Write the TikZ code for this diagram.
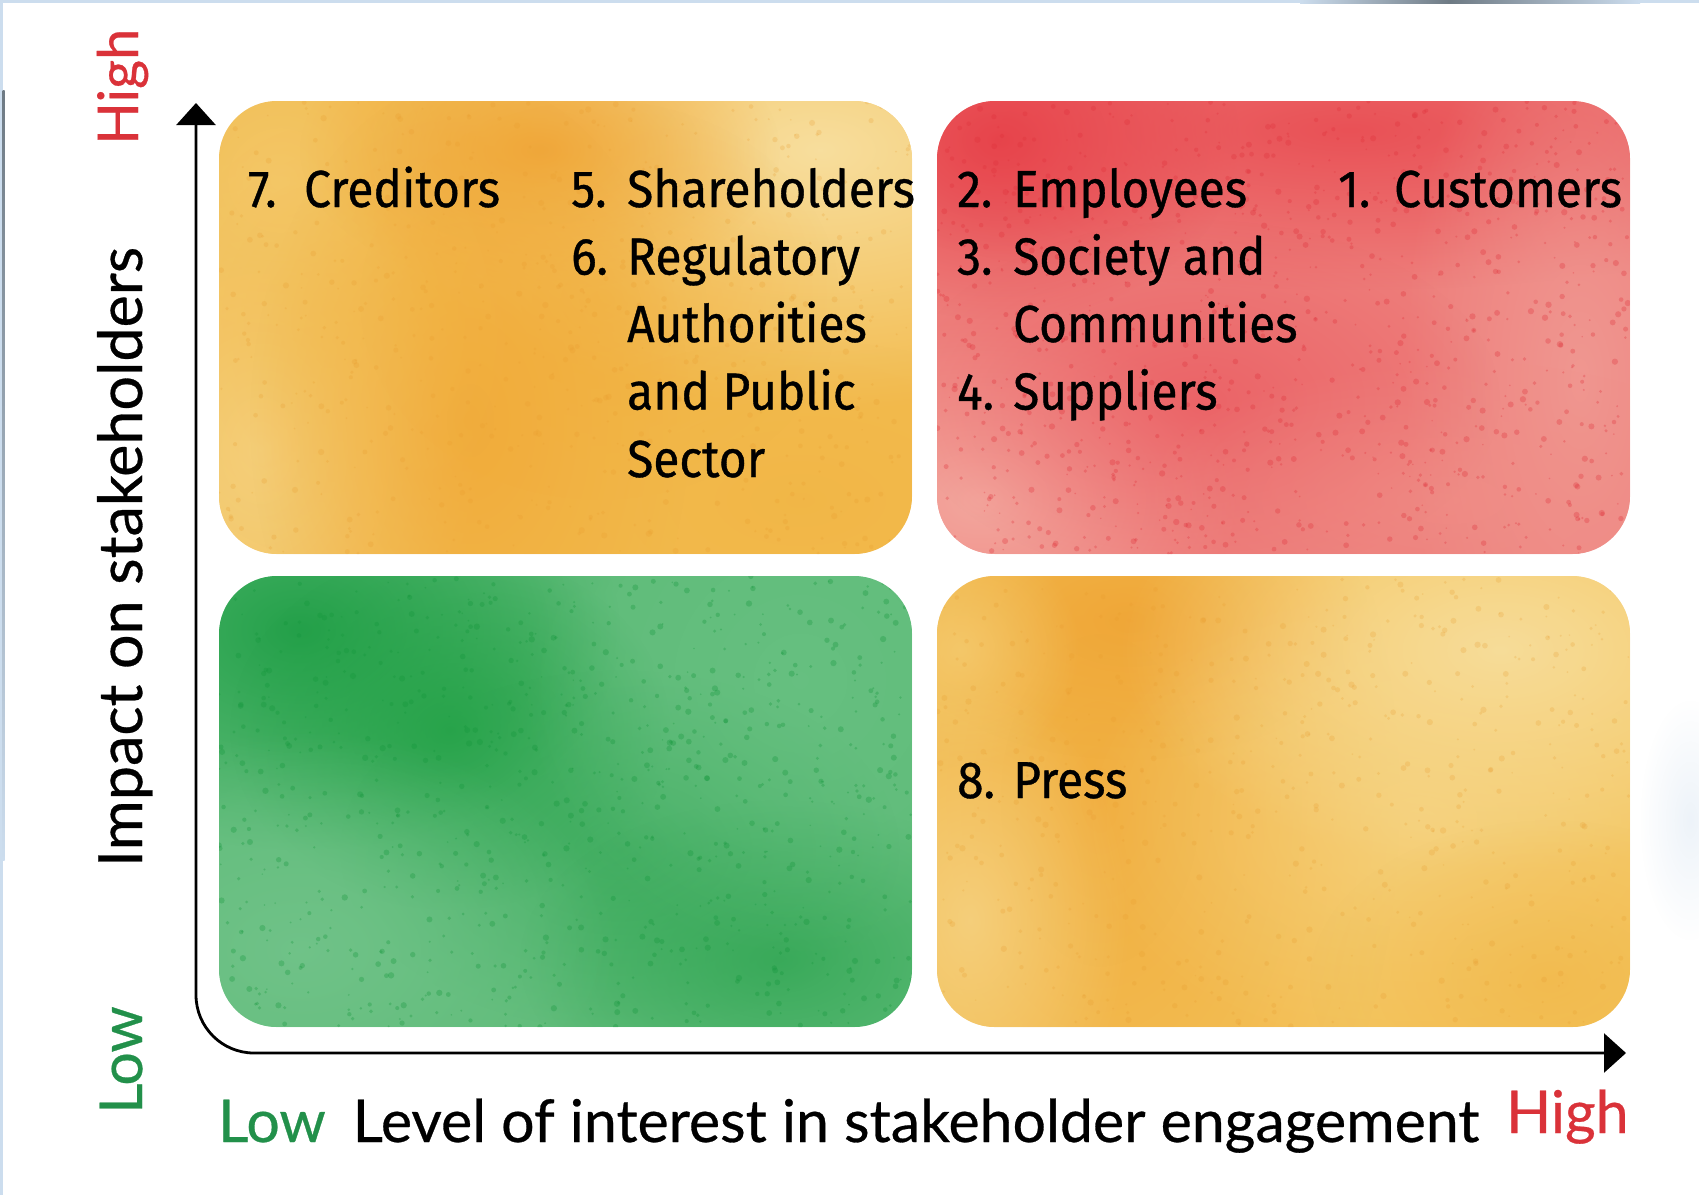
\documentclass[tikz,border=0pt]{standalone}
\usepackage{fontspec}
\setmainfont[FakeBold=0.5]{Lato}
\newfontfamily\boxfont[FakeStretch=0.92,FakeBold=0.7]{Fira Sans}
\usetikzlibrary{arrows.meta,fadings}
\definecolor{highred}{HTML}{DA3239}
\definecolor{lowgreen}{HTML}{22904A}
\definecolor{framelight}{HTML}{CCDDEE}
\definecolor{framegray}{HTML}{6E7A84}
% yellow quadrants
\definecolor{yBase}{HTML}{F3BB4E}
\definecolor{yCream}{HTML}{F8E2A6}
\definecolor{yPale}{HTML}{F6D88E}
\definecolor{yLight}{HTML}{F5CF77}
\definecolor{yOrange}{HTML}{EFA232}
\definecolor{yOrangeB}{HTML}{F0A634}
\definecolor{yMid}{HTML}{F1AE3C}
\definecolor{yMidB}{HTML}{F1B443}
\definecolor{yMidC}{HTML}{F2BA4D}
\definecolor{yDot}{HTML}{E89A2C}
\definecolor{yBaseB}{HTML}{F4C45C}
% red quadrant
\definecolor{rBase}{HTML}{EE7E7B}
\definecolor{rDark}{HTML}{E63C45}
\definecolor{rDarkB}{HTML}{E8464D}
\definecolor{rPale}{HTML}{F4ABA1}
\definecolor{rPaleB}{HTML}{F1A29A}
\definecolor{rMid}{HTML}{E9525A}
\definecolor{rPink}{HTML}{F09088}
\definecolor{rDot}{HTML}{E0303A}
% green quadrant
\definecolor{gBase}{HTML}{5FBC79}
\definecolor{gDark}{HTML}{1E9E45}
\definecolor{gDarkB}{HTML}{1FA043}
\definecolor{gMid}{HTML}{30A653}
\definecolor{gMidB}{HTML}{2BA34E}
\definecolor{gLight}{HTML}{74C48C}
\definecolor{gLightB}{HTML}{6BC285}
\definecolor{gDot}{HTML}{12963A}
\tikzfading[name=blobfade, inner color=transparent!0, outer color=transparent!100]
\newcommand\wblob[6]{\fill[fill=#1, path fading=blobfade, fill opacity=#6] (#2,#3) ellipse [x radius={2*#4}, y radius={2*#5}];}
\newcommand\speckles[7]{%
  \foreach \k in {1,...,#6}{%
    \pgfmathsetmacro\px{#2+rnd*#4}%
    \pgfmathsetmacro\py{#3+rnd*#5}%
    \pgfmathsetmacro\pr{0.8+2.4*rnd}%
    \fill[fill=#1, fill opacity=#7] (\px,\py) circle [radius=\pr];
  }}
\newcommand\numbox[1]{\makebox[56pt][l]{#1}}
\tikzset{
  quad/.style={rounded corners=58pt},
  itemtext/.style={anchor=base west, inner sep=0pt, text=black,
    font={\boxfont\fontsize{52}{67.5}\selectfont}},
  axislabel/.style={inner sep=0pt, font={\fontsize{59}{70}\selectfont}},
  axisline/.style={line width=2.8pt, rounded corners=58pt,
    {Triangle[length=22pt,width=39pt]}-{Triangle[length=22pt,width=39pt]}},
}
\begin{document}
\begin{tikzpicture}[x=1pt,y=-1pt]
\pgfmathsetseed{1234}
\useasboundingbox (0,0) rectangle (1699,1195);
\fill[white] (0,0) rectangle (1699,1195);
% screenshot frame remnants
\fill[framelight] (0,0) rectangle (1699,3);
\shade[left color=framelight, right color=framegray] (1300,0) rectangle (1450,3);
\shade[left color=framegray, right color=framelight] (1450,0) rectangle (1640,3);
\fill[framelight] (0,0) rectangle (3,1195);
\shade[top color=framegray, bottom color=framelight] (2.5,90) rectangle (4.5,860);
\wblob{framelight}{1690}{820}{25}{60}{0.35}

% ---------- top-left quadrant (yellow) ----------
\begin{scope}
\clip[quad] (219,101) rectangle (912,554);
\fill[yBase] (219,101) rectangle (912,554);
\wblob{yCream}{820}{150}{230}{130}{0.9}
\wblob{yPale}{260}{450}{110}{150}{0.8}
\wblob{yLight}{280}{180}{90}{90}{0.7}
\wblob{yOrange}{540}{150}{120}{70}{0.85}
\wblob{yOrangeB}{470}{420}{110}{170}{0.75}
\wblob{yMid}{600}{300}{120}{100}{0.6}
\wblob{yMidB}{800}{500}{150}{80}{0.6}
\wblob{yMidC}{330}{320}{100}{120}{0.5}
\speckles{yDot}{219}{101}{693}{453}{600}{0.22}
\end{scope}

% ---------- top-right quadrant (red) ----------
\begin{scope}
\clip[quad] (937,101) rectangle (1630,554);
\fill[rBase] (937,101) rectangle (1630,554);
\wblob{rDark}{1000}{140}{120}{90}{0.9}
\wblob{rDarkB}{1350}{130}{300}{80}{0.8}
\wblob{rPale}{980}{500}{130}{90}{0.9}
\wblob{rPaleB}{1580}{380}{90}{200}{0.7}
\wblob{rMid}{1200}{400}{150}{90}{0.6}
\wblob{rPink}{1450}{500}{160}{70}{0.6}
\speckles{rDot}{937}{101}{693}{453}{1000}{0.3}
\end{scope}

% ---------- bottom-left quadrant (green) ----------
\begin{scope}
\clip[quad] (219,576) rectangle (912,1027);
\fill[gBase] (219,576) rectangle (912,1027);
\wblob{gDark}{300}{630}{160}{110}{0.9}
\wblob{gDarkB}{450}{730}{110}{90}{0.8}
\wblob{gMid}{620}{850}{140}{90}{0.6}
\wblob{gMidB}{780}{960}{130}{80}{0.7}
\wblob{gLight}{300}{950}{160}{110}{0.8}
\wblob{gLightB}{800}{680}{140}{140}{0.6}
\speckles{gDot}{219}{576}{693}{451}{900}{0.3}
\end{scope}

% ---------- bottom-right quadrant (yellow) ----------
\begin{scope}
\clip[quad] (937,576) rectangle (1630,1027);
\fill[yBaseB] (937,576) rectangle (1630,1027);
\wblob{yOrangeB}{1100}{800}{150}{250}{0.75}
\wblob{yOrange}{1130}{620}{120}{70}{0.75}
\wblob{yCream}{1500}{650}{190}{110}{0.85}
\wblob{yPale}{1420}{820}{170}{120}{0.6}
\wblob{yPale}{970}{920}{80}{120}{0.7}
\wblob{yMidB}{1550}{980}{120}{80}{0.6}
\wblob{yLight}{960}{650}{60}{60}{0.7}
\speckles{yDot}{937}{576}{693}{451}{600}{0.22}
\end{scope}

% ---------- axes ----------
\coordinate (ytip) at (196,103);
\coordinate (origin) at (196,1053);
\coordinate (xtip) at (1626,1053);
\draw[axisline] (ytip) -- (origin) -- (xtip);

% ---------- quadrant texts ----------
\node[itemtext] (creditors) at (248,207)
  {\begin{tabular}[t]{@{}l@{}l@{}}\numbox{7.}&Creditors\end{tabular}};
\node[itemtext] (shareholders) at (571,207)
  {\begin{tabular}[t]{@{}l@{}l@{}}\numbox{5.}&Shareholders\\
   \numbox{6.}&Regulatory\\ &Authorities\\ &and Public\\ &Sector\end{tabular}};
\node[itemtext] (employees) at (957,207)
  {\begin{tabular}[t]{@{}l@{}l@{}}\numbox{2.}&Employees\\
   \numbox{3.}&Society and\\ &Communities\\ \numbox{4.}&Suppliers\end{tabular}};
\node[itemtext] (customers) at (1338,207)
  {\begin{tabular}[t]{@{}l@{}l@{}}\numbox{1.}&Customers\end{tabular}};
\node[itemtext] (press) at (957,798)
  {\begin{tabular}[t]{@{}l@{}l@{}}\numbox{8.}&Press\end{tabular}};

% ---------- axis labels ----------
\node[axislabel, text=lowgreen, anchor=base west] (xlow) at (218,1142) {Low};
\node[axislabel, anchor=base] (xtitle) at (916,1142) {Level of interest in stakeholder engagement};
\node[axislabel, text=highred, anchor=base west] (xhigh) at (1506,1133) {High};
\node[axislabel, text=highred, rotate=90, anchor=base west, font={\fontsize{56}{66}\selectfont}] (yhigh) at (138,145) {High};
\node[axislabel, rotate=90, anchor=base, font={\fontsize{61}{72}\selectfont}] (ytitle) at (142,557) {Impact on stakeholders};
\node[axislabel, text=lowgreen, rotate=90, anchor=base west] (ylow) at (142,1114) {Low};
\end{tikzpicture}
\end{document}
